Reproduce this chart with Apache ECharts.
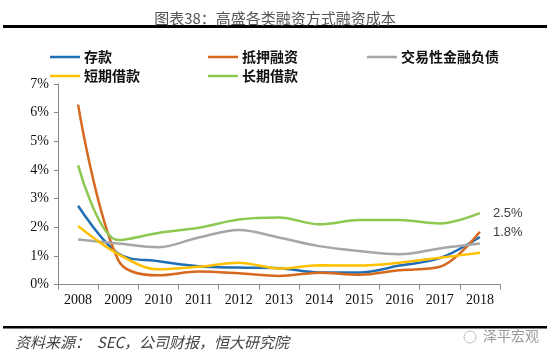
<!DOCTYPE html>
<html>
<head>
<meta charset="utf-8">
<script src="https://cdn.jsdelivr.net/npm/echarts@6/dist/echarts.min.js"></script>
<style>
html,body{margin:0;padding:0;background:#fff;}
#main{width:550px;height:357px;}
</style>
</head>
<body>
<div id="main"></div>
<script>
const years = ['2008','2009','2010','2011','2012','2013','2014','2015','2016','2017','2018'];
const yTicks = [0, 1, 2, 3, 4, 5, 6, 7];
const deposit = [2.75, 1.08, 0.81, 0.64, 0.59, 0.57, 0.42, 0.42, 0.66, 0.92, 1.66];
const mortgage = [6.28, 0.85, 0.32, 0.45, 0.39, 0.30, 0.41, 0.34, 0.50, 0.62, 1.84];
const tradingLiab = [1.57, 1.43, 1.30, 1.64, 1.90, 1.64, 1.34, 1.17, 1.06, 1.26, 1.43];
const shortLoan = [2.04, 1.06, 0.53, 0.62, 0.76, 0.56, 0.67, 0.66, 0.76, 0.93, 1.11];
const longLoan = [4.16, 1.55, 1.80, 1.98, 2.27, 2.34, 2.10, 2.25, 2.25, 2.13, 2.49];

const names = ['存款', '抵押融资', '交易性金融负债', '短期借款', '长期借款'];
const colors = ['#1f6fb6', '#d6691f', '#a6a6a6', '#ffc000', '#8dc851'];
const data = [deposit, mortgage, tradingLiab, shortLoan, longLoan];

const chart = echarts.init(document.getElementById('main'));
const serif = '"Liberation Serif", "Times New Roman", serif';
const cjk = '"Noto Sans CJK SC", sans-serif';

function legendCol(items, left) {
  return {
    data: items, left: left, top: 45, orient: 'vertical', itemGap: 5,
    icon: 'rect', itemWidth: 30, itemHeight: 2.5,
    textStyle: {fontFamily: cjk, fontSize: 14, fontWeight: 'bold', color: '#111', padding: [0,0,0,-1]}
  };
}

const series = names.map((n, i) => {
  const s = {
    name: n, type: 'line', data: data[i], smooth: 0.35, symbol: 'none',
    lineStyle: {width: 2.5, color: colors[i]}, itemStyle: {color: colors[i]}
  };
  if (n === '长期借款' || n === '抵押融资') {
    s.endLabel = {
      show: true, color: '#404040', fontSize: 13, distance: 13,
      fontFamily: '"Liberation Sans", Arial, sans-serif',
      formatter: p => p.value.toFixed(1) + '%',
      offset: [0, n === '长期借款' ? 0 : 1]
    };
  }
  return s;
});

chart.setOption({
  animation: false,
  title: {
    text: '图表38：高盛各类融资方式融资成本', left: 'center', top: 6,
    textStyle: {fontFamily: cjk, fontSize: 15, fontWeight: 'normal', color: '#555'}
  },
  legend: [
    legendCol(['存款', '短期借款'], 45),
    legendCol(['抵押融资', '长期借款'], 203),
    legendCol(['交易性金融负债'], 362)
  ],
  grid: {left: 58, right: 50, top: 84, bottom: 72.5},
  xAxis: {
    type: 'category', data: years, boundaryGap: true,
    axisLine: {lineStyle: {color: '#888', width: 1}},
    axisTick: {show: true, length: 5, lineStyle: {color: '#888'}},
    axisLabel: {fontFamily: serif, fontSize: 14, color: '#111', margin: 9}
  },
  yAxis: {
    type: 'value', min: yTicks[0], max: yTicks[yTicks.length-1], interval: 1,
    axisLine: {show: true, lineStyle: {color: '#888', width: 1}},
    axisTick: {show: true, length: 4, inside: false, lineStyle: {color: '#888'}},
    splitLine: {show: false},
    axisLabel: {fontFamily: serif, fontSize: 14, color: '#111', margin: 9, formatter: v => v + '%'}
  },
  series: series,
  graphic: [
    {type: 'rect', shape: {x: 3, y: 25, width: 544, height: 3}, style: {fill: '#000'}},
    {type: 'rect', shape: {x: 3, y: 326, width: 544, height: 2.5}, style: {fill: '#000'}},
    {type: 'text', left: 15, top: 335, style: {text: '资料来源：  SEC，公司财报，恒大研究院', font: 'italic 15px "Noto Sans CJK SC", sans-serif', fill: '#444'}},
    {type: 'text', left: 483, top: 329, style: {text: '泽平宏观', font: '14px "Noto Sans CJK SC", sans-serif', fill: '#9a9a9a'}},
    {type: 'circle', shape: {cx: 470, cy: 337, r: 6}, style: {fill: 'none', stroke: '#bbb', lineWidth: 1}}
  ]
});
</script>
</body>
</html>
